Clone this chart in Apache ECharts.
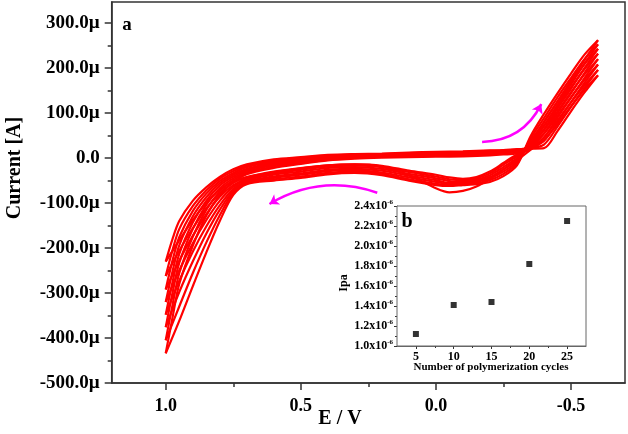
<!DOCTYPE html>
<html>
<head>
<meta charset="utf-8">
<script src="https://cdn.jsdelivr.net/npm/echarts@6/dist/echarts.min.js"></script>
<style>html,body{margin:0;padding:0;background:#fff}#c{width:628px;height:434px}</style>
</head>
<body>
<div id="c"></div>
<script>
// ---- main panel (a): cyclic voltammograms, current in µA ----
const potentialForward = [-0.60,-0.55,-0.50,-0.45,-0.40,-0.35,-0.30,-0.25,-0.20,-0.15,-0.10,-0.05,0.00,0.10,0.20,0.30,0.40,0.50,0.60,0.70,0.75,0.80,0.85,0.90,0.95,1.00];
const potentialReverse = [1.00,0.975,0.95,0.90,0.85,0.80,0.75,0.70,0.60,0.50,0.40,0.30,0.20,0.10,0.00,-0.10,-0.20,-0.25,-0.30,-0.35,-0.40,-0.45,-0.50,-0.55,-0.60];

const fwd1 = [184,152,115,75,40,18,-5,-25,-46,-63,-73,-76,-67,-38,-19,-14,-16,-22,-30,-42,-52,-70,-100,-138,-183,-230];
const fwd2 = [196,162,124,84,46,20,8,-11,-30,-42,-46,-43,-37,-28,-17,-14,-16,-23,-31,-43,-55,-78,-112,-156,-206,-262];
const fwd3 = [208,174,135,94,54,24,4,-15,-34,-45,-49,-47,-41,-31,-20,-17,-19,-26,-34,-46,-60,-86,-125,-173,-228,-292];
const fwd4 = [220,186,146,104,62,28,0,-20,-38,-48,-52,-51,-45,-35,-24,-20,-22,-30,-37,-49,-64,-95,-138,-190,-250,-320];
const fwd5 = [232,198,157,115,71,33,-4,-25,-42,-51,-55,-55,-49,-39,-28,-24,-26,-34,-41,-52,-69,-105,-152,-208,-273,-348];
const fwd6 = [243,209,168,125,80,38,-8,-30,-45,-53,-57,-58,-53,-43,-32,-27,-29,-37,-44,-54,-73,-115,-168,-230,-298,-376];
const fwd7 = [253,220,178,135,89,43,-12,-35,-49,-56,-59,-60,-57,-47,-35,-30,-33,-41,-47,-56,-77,-127,-188,-256,-330,-405];
const fwd8 = [262,230,188,144,98,48,-16,-40,-53,-58,-60,-62,-60,-50,-38,-33,-36,-44,-50,-58,-82,-140,-210,-285,-362,-434];

const rev1 = [-230,-180,-140,-95,-65,-42,-25,-14,-3,2,7,9,10,12,14,15,17,18,20,21,22,60,104,146,184];
const rev2 = [-262,-205,-158,-107,-72,-46,-29,-17,-5,0,5,8,9,11,13,14,16,17,19,22,30,70,114,156,196];
const rev3 = [-292,-228,-176,-118,-79,-51,-33,-20,-8,-2,4,7,8,10,12,13,15,16,18,23,38,80,124,167,208];
const rev4 = [-320,-252,-194,-130,-87,-56,-37,-24,-10,-4,2,5,7,9,11,12,14,15,17,24,46,90,134,178,220];
const rev5 = [-348,-276,-213,-143,-95,-61,-41,-27,-13,-7,0,4,6,8,9,10,12,14,16,26,55,100,144,189,232];
const rev6 = [-376,-300,-233,-158,-104,-67,-45,-30,-16,-9,-2,2,4,6,7,8,10,12,14,28,64,110,154,200,243];
const rev7 = [-405,-327,-256,-175,-115,-74,-49,-33,-19,-11,-4,1,3,4,5,6,8,10,13,30,72,118,164,210,253];
const rev8 = [-434,-355,-280,-195,-128,-82,-54,-36,-22,-13,-5,-1,1,2,3,4,6,8,11,32,80,126,172,218,262];

const xTickLabels = [1.0, 0.5, 0.0, -0.5];
const xMinorTicks = [0.75, 0.25, -0.25];
const yTickLabels = [-500,-400,-300,-200,-100,0,100,200,300];
const yMinorTicks = [-450,-350,-250,-150,-50,50,150,250];

// scan-direction arrows (start, end) in data units
const arrowUp = [[-0.171, 36], [-0.39, 120]];
const arrowLeft = [[0.217, -77], [0.616, -102]];

// ---- inset (b) ----
const insetCycles = [5, 10, 15, 20, 25];
const insetIpa = [1.12, 1.41, 1.44, 1.82, 2.25];
const insetXTicks = [5, 10, 15, 20, 25];
const insetXMinorTicks = [7.5, 12.5, 17.5, 22.5];

const FONT = '"Liberation Serif","Times New Roman",serif';
const forwards = [fwd1,fwd2,fwd3,fwd4,fwd5,fwd6,fwd7,fwd8];
const reverses = [rev1,rev2,rev3,rev4,rev5,rev6,rev7,rev8];

const series = [];
forwards.forEach(function (arr) {
  series.push({type:'line', xAxisIndex:0, yAxisIndex:0, symbol:'none', smooth:0.3,
    lineStyle:{color:'#ff0000', width:2.2}, data: potentialForward.map(function (e,i){return [e, arr[i]];})});
});
reverses.forEach(function (arr) {
  series.push({type:'line', xAxisIndex:0, yAxisIndex:0, symbol:'none', smooth:0.3,
    lineStyle:{color:'#ff0000', width:2.2}, data: potentialReverse.map(function (e,i){return [e, arr[i]];})});
});
series.push({type:'lines', coordinateSystem:'cartesian2d', xAxisIndex:0, yAxisIndex:0,
  symbol:['none','arrow'], symbolSize:9,
  lineStyle:{color:'#ff00ff', width:2.5, curveness:-0.3, opacity:1},
  data:[{coords: arrowUp}]});
series.push({type:'lines', coordinateSystem:'cartesian2d', xAxisIndex:0, yAxisIndex:0,
  symbol:['none','arrow'], symbolSize:9,
  lineStyle:{color:'#ff00ff', width:2.5, curveness:-0.23, opacity:1},
  data:[{coords: arrowLeft}]});
series.push({type:'scatter', xAxisIndex:2, yAxisIndex:2, symbol:'rect', symbolSize:6,
  itemStyle:{color:'#000'}, data: insetCycles.map(function (c,i){return [c, insetIpa[i]];}), z:20});

const axisLineStyle = {color:'#333', width:1.5};
const option = {
  animation:false,
  backgroundColor:'#fff',
  grid:[
    {left:111.7, top:2, right:3, bottom:51, show:true, borderColor:'#333', borderWidth:1.5},
    {left:397, top:206, width:189, height:140, show:true, borderColor:'#666', borderWidth:1, backgroundColor:'#fff', z:5}
  ],
  xAxis:[
    {gridIndex:0, type:'value', position:'bottom', min:-0.7, max:1.2, inverse:true,
      axisLine:{show:true, onZero:false, lineStyle:axisLineStyle},
      axisTick:{show:true, customValues:xTickLabels, length:7, lineStyle:axisLineStyle},
      axisLabel:{customValues:xTickLabels, margin:14, color:'#000', fontSize:18, fontWeight:'bold', fontFamily:FONT,
        formatter:function(v){return (Math.abs(v)<1e-9?0:v).toFixed(1);}},
      splitLine:{show:false}},
    {gridIndex:0, type:'value', position:'bottom', min:-0.7, max:1.2, inverse:true,
      axisLine:{show:false, onZero:false}, axisLabel:{show:false},
      axisTick:{show:true, customValues:xMinorTicks, length:4, lineStyle:axisLineStyle},
      splitLine:{show:false}},
    {gridIndex:1, type:'value', position:'bottom', min:2.5, max:27.5,
      axisLine:{show:true, onZero:false, lineStyle:{color:'#666', width:1}},
      axisTick:{show:true, customValues:insetXTicks, length:3, lineStyle:{color:'#333'}},
      axisLabel:{customValues:insetXTicks, margin:5, color:'#000', fontSize:12, fontWeight:'bold', fontFamily:FONT},
      splitLine:{show:false}},
    {gridIndex:1, type:'value', position:'bottom', min:2.5, max:27.5,
      axisLine:{show:false, onZero:false}, axisLabel:{show:false},
      axisTick:{show:true, customValues:insetXMinorTicks, length:2, lineStyle:{color:'#333'}},
      splitLine:{show:false}}
  ],
  yAxis:[
    {gridIndex:0, type:'value', position:'left', min:-500, max:347,
      axisLine:{show:true, onZero:false, lineStyle:axisLineStyle},
      axisTick:{show:true, customValues:yTickLabels, length:7, lineStyle:axisLineStyle},
      axisLabel:{customValues:yTickLabels, margin:12, color:'#000', fontSize:19, fontWeight:'bold', fontFamily:FONT,
        formatter:function(v){return v===0 ? '0.0' : v.toFixed(1)+'µ';}},
      splitLine:{show:false}},
    {gridIndex:0, type:'value', position:'left', min:-500, max:347,
      axisLine:{show:false, onZero:false}, axisLabel:{show:false},
      axisTick:{show:true, customValues:yMinorTicks, length:4, lineStyle:axisLineStyle},
      splitLine:{show:false}},
    {gridIndex:1, type:'value', position:'left', min:1.0, max:2.4, interval:0.2,
      axisLine:{show:true, onZero:false, lineStyle:{color:'#666', width:1}},
      axisTick:{show:true, length:3, lineStyle:{color:'#333'}},
      minorTick:{show:true, splitNumber:2, length:2, lineStyle:{color:'#333'}},
      axisLabel:{margin:4, color:'#000', fontFamily:FONT,
        formatter:function(v){return '{a|'+v.toFixed(1)+'x10}{b|-6}';},
        rich:{a:{fontSize:12, fontWeight:'bold', fontFamily:FONT, color:'#000'},
              b:{fontSize:7, fontWeight:'bold', fontFamily:FONT, color:'#000', padding:[0,0,7,0]}}},
      splitLine:{show:false}}
  ],
  graphic:[
    {type:'text', x:127, y:25, z:50, style:{text:'a', font:'bold 19px '+FONT, fill:'#000', align:'center', verticalAlign:'middle', textAlign:'center', textVerticalAlign:'middle'}},
    {type:'text', x:407, y:222, z:50, style:{text:'b', font:'bold 20px '+FONT, fill:'#000', align:'center', verticalAlign:'middle', textAlign:'center', textVerticalAlign:'middle'}},
    {type:'text', x:15, y:168, rotation:Math.PI/2, z:50, style:{text:'Current [A]', font:'bold 20px '+FONT, fill:'#000', align:'center', verticalAlign:'middle', textAlign:'center', textVerticalAlign:'middle'}},
    {type:'text', x:340, y:419, z:50, style:{text:'E / V', font:'bold 20px '+FONT, fill:'#000', align:'center', verticalAlign:'middle', textAlign:'center', textVerticalAlign:'middle'}},
    {type:'text', x:344, y:283, rotation:Math.PI/2, z:50, style:{text:'Ipa', font:'bold 12px '+FONT, fill:'#000', align:'center', verticalAlign:'middle', textAlign:'center', textVerticalAlign:'middle'}},
    {type:'text', x:491, y:367, z:50, style:{text:'Number of polymerization cycles', font:'bold 11px '+FONT, fill:'#000', align:'center', verticalAlign:'middle', textAlign:'center', textVerticalAlign:'middle'}}
  ],
  series: series
};
const chart = echarts.init(document.getElementById('c'), null, {renderer:'canvas'});
chart.setOption(option);
</script>
</body>
</html>
